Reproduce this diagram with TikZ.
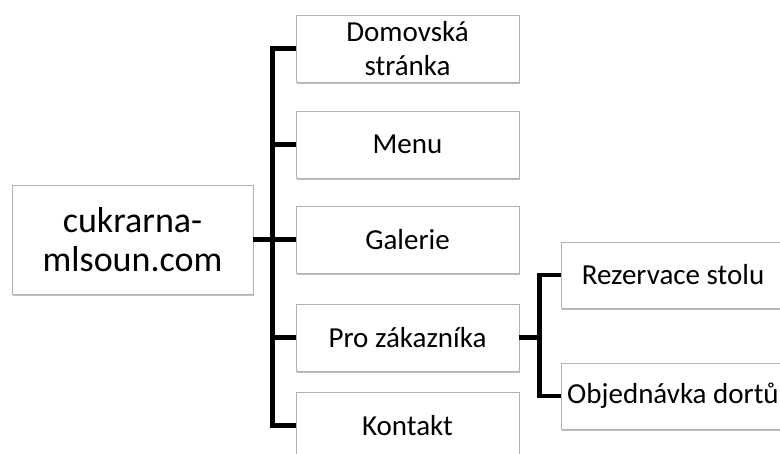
\documentclass[tikz,border=0pt]{standalone}
\usepackage{fontspec}
\setmainfont{Carlito}
\usetikzlibrary{shadows}
\begin{document}
\begin{tikzpicture}[x=1pt,y=-1pt,
  box/.style={draw=gray!60, line width=0.6pt, fill=white, inner sep=0pt, align=center,
    minimum width=223pt, minimum height=67pt, font=\fontsize{29}{34}\selectfont,
    drop shadow={shadow xshift=1pt, shadow yshift=-2.5pt, fill=black, opacity=0.25}},
  conn/.style={line width=4.5pt, black}]
\useasboundingbox (0,0) rectangle (780,454);
\clip (0,0) rectangle (780,454);
\node[box, minimum width=241pt, minimum height=109pt, font=\fontsize{36}{39}\selectfont] (root) at (132.5,239.5) {cukrarna-\\mlsoun.com};
\node[box] (dom) at (407.5,48.5) {Domovská\\stránka};
\node[box] (menu) at (407.5,144.5) {Menu};
\node[box] (gal) at (407.5,239.5) {Galerie};
\node[box] (pro) at (407.5,337.5) {Pro zákazníka};
\node[box] (kon) at (407.5,425.5) {Kontakt};
\node[box, minimum width=224pt, minimum height=66pt] (rez) at (673,275) {Rezervace stolu};
\node[box, minimum width=224pt, minimum height=66pt] (obj) at (673,396) {Objednávka dortů};
\draw[conn] (dom.west) -- ++(-23,0) |- (kon.west);
\draw[conn] (menu.west) -- ++(-23,0);
\draw[conn] (pro.west) -- ++(-23,0);
\draw[conn] (root.east) -- (gal.west);
\draw[conn] (rez.west) -- ++(-21,0) |- (obj.west);
\draw[conn] (pro.east) -- ++(21,0);
\end{tikzpicture}
\end{document}
